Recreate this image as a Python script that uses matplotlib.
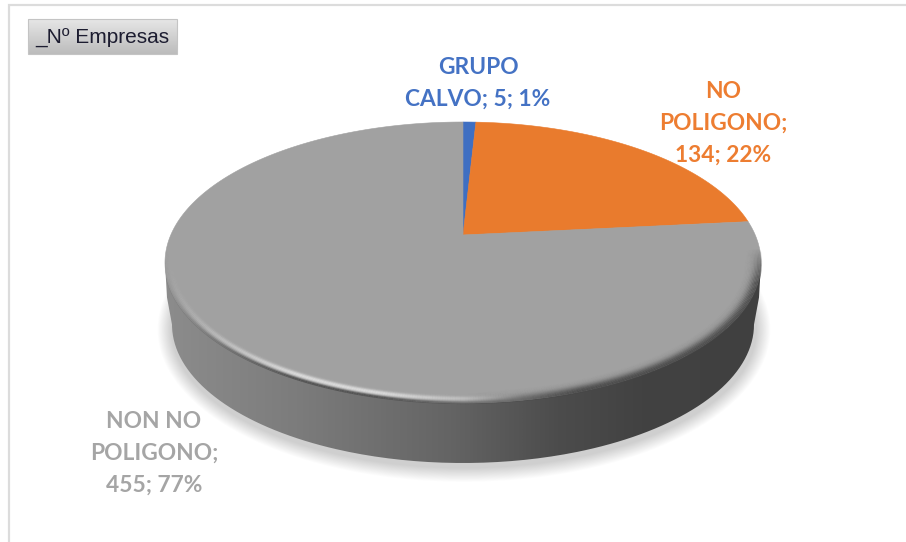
import numpy as np
import matplotlib
matplotlib.use("Agg")
import matplotlib.pyplot as plt
from matplotlib.colors import LinearSegmentedColormap
from matplotlib.patches import Ellipse, PathPatch, Rectangle
from matplotlib.path import Path
from matplotlib.collections import LineCollection

categories = ["GRUPO\nCALVO", "NO\nPOLIGONO", "NON NO\nPOLIGONO"]
values = [5, 134, 455]
percents = [1, 22, 77]
series_name = "_Nº Empresas"

W, H = 906, 542
fig = plt.figure(figsize=(W / 100, H / 100), dpi=100, facecolor="white")
ax = fig.add_axes([0, 0, 1, 1])
ax.set_xlim(0, W)
ax.set_ylim(H, 0)
ax.axis("off")

# frame
ax.plot([8.5, 8.5, W], [H, 4.5, 4.5], color="#dcdcdc", lw=1.6, zorder=1, solid_joinstyle="miter")

# series button
grad = np.linspace(0, 1, 64)[:, None]
ax.imshow(grad, extent=(28, 177, 54, 19), cmap=LinearSegmentedColormap.from_list("b", ["#e6e6e6", "#bcbcbc"]),
          aspect="auto", zorder=2)
ax.add_patch(Rectangle((28, 19), 149, 35, fill=False, ec="#c4c4c4", lw=0.8, zorder=3))
ax.text(35, 38, series_name, family="Liberation Sans", fontsize=15, color="#1c1c30", va="center", ha="left", zorder=4)

cx, cy, rx, ry = 463.0, 262.5, 298.0, 140.5
depth = 62.0
a = 0.196  # perspective shift of the pie apex


def project(theta):
    """Project pie angle (clockwise from 12 o'clock) onto the tilted top face."""
    x, y = np.sin(theta), np.cos(theta)
    u = x * np.sqrt(1 - a * a) / (1 + a * y)
    v = (y + a) / (1 + a * y)
    return cx + rx * u, cy - ry * v


# soft shadow
for i in range(16):
    g = 16 - i
    ax.add_patch(Ellipse((cx + 1, cy + depth + 5), 2 * (292 + g * 0.9), 2 * (138 + g * 0.9),
                         fc="#000000", ec="none", alpha=0.011, zorder=4))

# side wall
t = np.linspace(0, np.pi, 200)
lower_x = cx + 291 * np.cos(t)
lower_y = cy + depth + 138.5 * np.sin(t)
wall_x = np.concatenate([[cx + rx, cx + 296], lower_x, [cx - 296, cx - rx]])
wall_y = np.concatenate([[cy, cy + 35], lower_y, [cy + 35, cy]])
wall = PathPatch(Path(np.column_stack([wall_x, wall_y]), closed=False), fc="none", ec="none", zorder=5)
ax.add_patch(wall)
cmap = LinearSegmentedColormap.from_list(
    "wall", [(0, "#8c8c8c"), (0.22, "#7c7c7c"), (0.48, "#646464"), (0.66, "#4c4c4c"), (0.8, "#424242"), (1, "#404040")])
im = ax.imshow(np.linspace(0, 1, 512)[None, :], extent=(cx - rx, cx + rx, cy + depth + 145, cy - 10), cmap=cmap,
               aspect="auto", zorder=5)
im.set_clip_path(wall)

# top face
tot = sum(values)
colors = ["#3f6fc2", "#e97b2d", "#a1a1a1"]
start = 0.0
for v, c in zip(values, colors):
    end = start + v / tot * 2 * np.pi
    th = np.linspace(start, end, 300)
    px, py = project(th)
    x0, y0 = cx, cy - ry * a
    ax.fill(np.r_[x0, px], np.r_[y0, py], fc=c, ec=c, lw=0.4, zorder=6)
    start = end

# soft bevel around the lower rim
t = np.linspace(0, 2 * np.pi, 721)
mid = (t[:-1] + t[1:]) / 2
s, c = np.sin(mid), np.cos(mid)
fade = np.clip((s + 0.1) * 4, 0, 1)
light = np.clip((0.2 - c) * 2.0, 0, 1) * np.clip((c + 1.02) * 2.2, 0, 1) * fade
dark = np.clip((c - 0.0) * 2.5, 0, 1) * fade
for inset in np.arange(0, 12, 1.0):
    ex = cx + (rx - inset * 1.4) * np.cos(t)
    ey = cy + (ry - inset) * np.sin(t)
    pts = np.column_stack([ex, ey])
    segs = np.stack([pts[:-1], pts[1:]], axis=1)
    la = 0.42 * np.exp(-((inset - 4.5) / 2.0) ** 2) * light
    edge = 0.75 * np.exp(-(inset / 1.6) ** 2) * light
    da = 0.75 * np.exp(-(inset / 5.0) ** 2) * dark
    rgba = np.zeros((len(mid), 4))
    total = la + edge + da
    w = np.where(total > 0, la / np.maximum(total, 1e-6), 0)
    rgba[:, :3] = (w[:, None] * np.array([1, 1, 1]) + (1 - w[:, None]) * np.array([0.28, 0.28, 0.28]))
    rgba[:, 3] = np.clip(total, 0, 1)
    ax.add_collection(LineCollection(segs, colors=rgba, linewidths=1.5, zorder=7))

# labels
lab_colors = ["#4472c4", "#ed7d31", "#a5a5a5"]
lab_pos = [(478, 67, 32), (723, 91.5, 32), (154, 421.5, 32)]
for cat, v, p, col, (lx, ly, dy) in zip(categories, values, percents, lab_colors, lab_pos):
    first, second = cat.split("\n")
    if first == "GRUPO":
        lines = [first, f"{second}; {v}; {p}%"]
    else:
        lines = [first, f"{second};", f"{v}; {p}%"]
    for i, line in enumerate(lines):
        ax.text(lx, ly + i * dy, line, family="Lato", weight="bold", fontsize=16.4, color=col,
                ha="center", va="center", zorder=8)

fig.savefig("out.png", dpi=100, facecolor="white")
